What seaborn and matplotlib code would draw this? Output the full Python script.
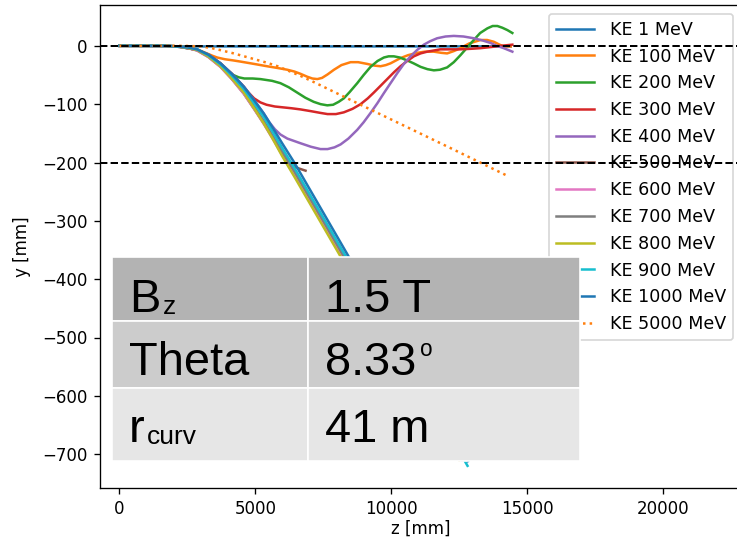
import matplotlib
matplotlib.use("Agg")
import numpy as np
import pandas as pd
import seaborn as sns
import matplotlib.pyplot as plt
from matplotlib.patches import Rectangle

# ---------------- data ----------------
labels = ["KE 1 MeV", "KE 100 MeV", "KE 200 MeV", "KE 300 MeV", "KE 400 MeV",
          "KE 500 MeV", "KE 600 MeV", "KE 700 MeV", "KE 800 MeV", "KE 900 MeV",
          "KE 1000 MeV", "KE 5000 MeV"]

z_1 = [0, 2000, 6000, 10000, 14380]
y_1 = [0, -1, -1, -1, -1]

z_100 = [0, 1734, 2448, 2856, 3162, 3417, 3590, 3876, 4182, 4447, 4947, 5426, 5814, 6171, 6426,
         6656, 6905, 7089, 7273, 7446, 7650, 7885, 8160, 8497, 8772, 9109, 9384, 9598, 9792, 9965,
         10333, 10608, 10945, 11220, 11557, 11832, 12046, 12291, 12536, 12852, 13270, 13515, 13760,
         13974, 14127, 14382]
y_100 = [0, 0, -2, -6, -12, -17, -20, -23, -25, -27, -31, -35, -38, -41, -44,
         -48, -53, -56, -57, -55, -49, -41, -33, -28, -28, -31, -34, -35, -33, -30,
         -21, -16, -12, -10, -10, -12, -13, -9, -4, 4, 10, 10, 7,
         2, -1, -1]

z_200 = [0, 1734, 2244, 2856, 3264, 3713, 3978, 4182, 4386, 4590, 4896, 5182, 5610, 5916, 6222,
         6528, 6834, 7140, 7395, 7640, 7854, 8058, 8247, 8466, 8741, 8976, 9231, 9486, 9721, 9894,
         10088, 10302, 10577, 10812, 11067, 11322, 11557, 11781, 12046, 12291, 12536, 12781, 13025,
         13260, 13525, 13719, 13892, 14076, 14260, 14443]
y_200 = [0, 0, -2, -7, -15, -30, -42, -50, -54, -56, -56, -57, -60, -64, -71,
         -80, -89, -96, -100, -102, -101, -96, -90, -79, -64, -50, -36, -26, -20, -18,
         -18, -20, -25, -30, -36, -40, -42, -41, -37, -28, -16, -3, 10,
         22, 30, 34, 34, 31, 27, 22]

z_300 = [0, 1734, 2244, 2856, 3264, 3713, 4131, 4570, 4743, 4947, 5182, 5406, 5712, 5916, 6324,
         6656, 7038, 7390, 7650, 7956, 8247, 8568, 8864, 9129, 9353, 9588, 9843, 10098, 10333,
         10577, 10822, 11067, 11312, 11557, 11801, 12240, 12536, 12954, 13270, 13668, 14010, 14443]
y_300 = [0, 0, -2, -7, -15, -30, -48, -70, -80, -90, -97, -101, -104, -105, -107,
         -109, -112, -115, -117, -117, -114, -108, -100, -90, -80, -69, -57, -45, -35,
         -26, -18, -13, -10, -8, -6, -6, -6, -5, -4, -2, 0, 2]

z_400 = [0, 1734, 2244, 2856, 3264, 3713, 4131, 4570, 4947, 5304, 5508, 5712, 5916, 6171, 6656,
         7038, 7390, 7650, 7905, 8129, 8415, 8741, 8976, 9231, 9486, 9721, 9965, 10210, 10455,
         10700, 10945, 11189, 11424, 11679, 11985, 12291, 12648, 13025, 13362, 13637, 13872, 14127, 14443]
y_400 = [0, 0, -2, -7, -15, -30, -48, -70, -93, -116, -131, -143, -152, -159, -167,
         -173, -177, -177, -174, -169, -159, -144, -131, -115, -98, -81, -64, -47, -31,
         -18, -7, 2, 8, 13, 16, 17, 16, 13, 9, 5, 0, -4, -10]

z_500 = [0, 1020, 1734, 2142, 2550, 2856, 3264, 3713, 4131, 4570, 4947, 5304, 5640, 5980, 6171, 6375, 6580, 6840]
y_500 = [0, 0, 0, -1, -4, -8, -19, -36, -57, -82, -108, -133, -158, -182, -195, -205, -210, -214]

z_600 = [0, 1020, 1734, 2142, 2550, 2856, 3264, 3713, 4131, 4570, 4947, 5304, 5640, 5980, 6425, 8435, 10710, 12527]
y_600 = [0, 0, 0, -1, -4, -8, -19, -36, -57, -82, -108, -134, -160, -187, -219, -381, -561, -710]
z_700 = [0, 1020, 1734, 2142, 2550, 2856, 3264, 3713, 4131, 4570, 4947, 5304, 5640, 5980, 6425, 8435, 10710, 12600]
y_700 = [0, 0, 0, -1, -4, -7, -18, -34, -55, -79, -104, -129, -155, -182, -215, -376, -555, -710]
z_800 = [0, 1020, 1734, 2142, 2550, 2856, 3264, 3713, 4131, 4570, 4947, 5304, 5640, 5980, 6425, 8435, 10710, 12490]
y_800 = [0, 0, 0, -1, -4, -7, -18, -35, -56, -80, -107, -133, -160, -189, -224, -386, -564, -710]
z_900 = [0, 1020, 1734, 2142, 2550, 2856, 3264, 3713, 4131, 4570, 4947, 5304, 5640, 5980, 6425, 8435, 10710, 12795]
y_900 = [0, 0, 0, -1, -3, -6, -16, -32, -51, -74, -98, -122, -148, -175, -209, -370, -549, -720]
z_1000 = [0, 1020, 1734, 2142, 2550, 2856, 3264, 3713, 4131, 4570, 4947, 5304, 5640, 5980, 6425, 8435, 10710, 12808]
y_1000 = [0, 0, 0, -1, -3, -6, -15, -30, -48, -70, -93, -116, -141, -167, -200, -362, -540, -712]

z_5000 = [0, 1530, 2346, 2978, 3284, 3590, 4202, 4814, 5426, 5814, 6171, 6630, 7140, 8374, 10200, 12291, 14311]
y_5000 = [0, 0, 0, -1, -3, -6, -13, -21, -29, -35, -42, -51, -62, -90, -131, -178, -224]

series_z = [z_1, z_100, z_200, z_300, z_400, z_500, z_600, z_700, z_800, z_900, z_1000, z_5000]
series_y = [y_1, y_100, y_200, y_300, y_400, y_500, y_600, y_700, y_800, y_900, y_1000, y_5000]

hlines = [0, -200]
xticks = [0, 5000, 10000, 15000, 20000]
yticks = [0, -100, -200, -300, -400, -500, -600, -700]

table_rows = [("B", "z", "1.5 T", ""), ("Theta", "", "8.33", "o"), ("r", "curv", "41 m", "")]

# ---------------- figure ----------------
DPI = 120
W, H = 737, 545
fig = plt.figure(figsize=(W / DPI, H / DPI), dpi=DPI)
ax = fig.add_axes([99.5 / W, (H - 488) / H, (742 - 99.5) / W, (488 - 5) / H])

colors = list(plt.rcParams["axes.prop_cycle"].by_key()["color"])
for i, (lab, zs, ys) in enumerate(zip(labels, series_z, series_y)):
    df = pd.DataFrame({"z": zs, "y": ys})
    ls = ":" if lab == "KE 5000 MeV" else "-"
    sns.lineplot(data=df, x="z", y="y", ax=ax, color=colors[i % 10], linestyle=ls,
                 linewidth=1.5, label=lab, sort=False, estimator=None)

for h in hlines:
    ax.axhline(h, color="k", linestyle="--", linewidth=1.2, zorder=6)

ax.set_xlim(-735, 22886)
ax.set_ylim(-758, 70)
ax.set_xticks(xticks)
ax.set_yticks(yticks)
ax.set_xlabel("z [mm]", labelpad=1)
ax.set_ylabel("y [mm]", labelpad=7)
ax.legend(loc="upper right", fontsize=10.5, labelspacing=0.5, handlelength=2.2,
          handletextpad=0.9)

# ---------------- overlaid table ----------------
tax = fig.add_axes([0, 0, 1, 1], zorder=20)
tax.set_xlim(0, W)
tax.set_ylim(H, 0)
tax.axis("off")

row_edges = [257.3, 321, 387.7, 461]
col_edges = [111.7, 308.3, 580]
row_colors = ["#b3b3b3", "#cccccc", "#e6e6e6"]
for r in range(3):
    for c in range(2):
        tax.add_patch(Rectangle((col_edges[c], row_edges[r]), col_edges[c + 1] - col_edges[c],
                                row_edges[r + 1] - row_edges[r], facecolor=row_colors[r],
                                edgecolor="white", linewidth=1.0))

fam = "Liberation Sans"
baselines = [311.7, 375, 441.7]
sub_x = {"z": 163.3, "curv": 146.7}
for r, (main, sub, val, sup) in enumerate(table_rows):
    tax.text(129, baselines[r], main, fontsize=28.2, family=fam, va="baseline", ha="left")
    if sub:
        tax.text(sub_x[sub], baselines[r] + 2.5, sub, fontsize=15.8, family=fam,
                 va="baseline", ha="left")
    tax.text(325, baselines[r], val, fontsize=28.2, family=fam, va="baseline", ha="left")
    if sup:
        tax.text(420, 356, sup, fontsize=13.5, family=fam, va="baseline", ha="left")

fig.savefig("out.png", dpi=DPI)
